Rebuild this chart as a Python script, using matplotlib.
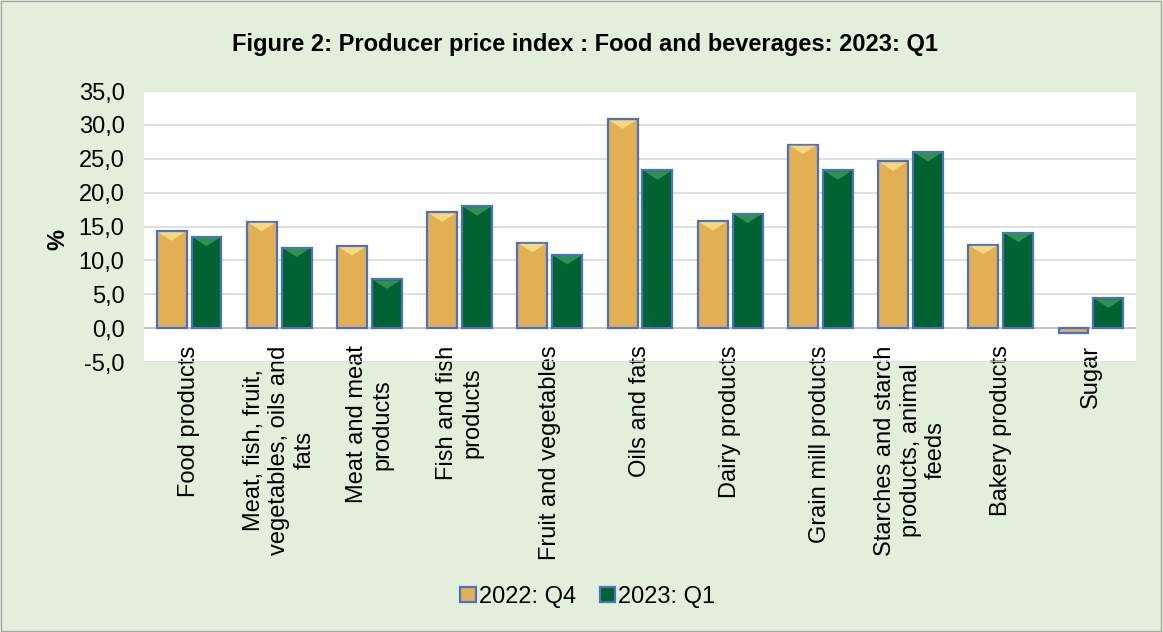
import matplotlib.pyplot as plt
from matplotlib.patches import Polygon
import numpy as np

plt.rcParams['font.family'] = ['Liberation Sans', 'DejaVu Sans']

categories = ['Food products',
              'Meat, fish, fruit,\nvegetables, oils and\nfats',
              'Meat and meat\nproducts',
              'Fish and fish\nproducts',
              'Fruit and vegetables',
              'Oils and fats',
              'Dairy products',
              'Grain mill products',
              'Starches and starch\nproducts, animal\nfeeds',
              'Bakery products',
              'Sugar']
q4_2022 = [14.3, 15.7, 12.1, 17.1, 12.6, 30.8, 15.8, 27.1, 24.6, 12.3, -0.7]
q1_2023 = [13.5, 11.9, 7.2, 18.0, 10.8, 23.3, 16.9, 23.3, 26.0, 14.1, 4.4]
yticks = [-5, 0, 5, 10, 15, 20, 25, 30, 35]

bg = '#E2EFDA'
gold = '#E3AF55'
green = '#006331'
edge = '#4A72C0'
fs = 17

fig = plt.figure(figsize=(11.63, 6.32), dpi=100, facecolor=bg)
fig.patches.append(plt.Rectangle((0.001, 0.002), 0.997, 0.996, transform=fig.transFigure,
                                 fill=False, edgecolor='#A6A6A6', linewidth=1))
ax = fig.add_axes([0.1238, 0.4272, 0.8530, 0.4288])
ax.set_facecolor('white')

x = np.arange(len(categories))
w = 0.332
gap = 0.055
b1 = ax.bar(x - w / 2 - gap / 2, q4_2022, w, color=gold, edgecolor=edge, linewidth=1.6,
            label='2022: Q4', zorder=3)
b2 = ax.bar(x + w / 2 + gap / 2, q1_2023, w, color=green, edgecolor=edge, linewidth=1.6,
            label='2023: Q1', zorder=3)

# bevel highlight at the top of each bar
for bars, light in [(b1, '#FBE38E'), (b2, '#3F9A5C')]:
    for r in bars:
        h = r.get_height()
        if h < 2:
            continue
        x0 = r.get_x()
        x1 = x0 + r.get_width()
        d = 1.4
        ax.add_patch(Polygon([(x0 + 0.02, h - 0.15), (x1 - 0.02, h - 0.15),
                              ((x0 + x1) / 2, h - d)], closed=True,
                             facecolor=light, edgecolor='none', alpha=0.8, zorder=4))

ax.set_xlim(-0.5, len(categories) - 0.5)
ax.set_ylim(-5, 35)
ax.set_yticks(yticks)
ax.set_yticklabels([f'{v:.1f}'.replace('.', ',') for v in yticks], fontsize=fs)
ax.yaxis.grid(True, color='#D9D9D9', linewidth=1.2, zorder=0)
ax.axhline(0, color='#BFBFBF', linewidth=1.2, zorder=2)
ax.set_xticks(x)
ax.set_xticklabels(categories, rotation=90, fontsize=fs, va='top', ha='center',
                   multialignment='center')
ax.tick_params(axis='x', length=0, pad=-12)
ax.tick_params(axis='y', length=0, pad=14)
for s in ax.spines.values():
    s.set_visible(False)

fig.text(58 / 1163, 1 - 240 / 632, '%', rotation=90, ha='center', va='center',
         fontsize=fs, fontweight='bold')
fig.text(0.503, 0.930, 'Figure 2: Producer price index : Food and beverages: 2023: Q1',
         ha='center', va='center', fontsize=fs, fontweight='bold')

fig.legend(loc='center', bbox_to_anchor=(0.5056, 0.0554), ncol=2, frameon=False,
           fontsize=fs, handlelength=0.64, handleheight=0.64, handletextpad=0.15,
           columnspacing=1.0)

fig.savefig('out.png', dpi=100, facecolor=bg)
